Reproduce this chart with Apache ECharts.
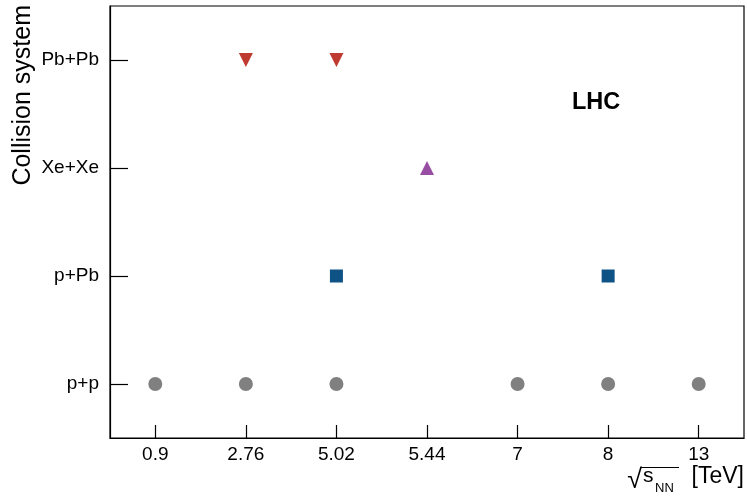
<!DOCTYPE html>
<html>
<head>
<meta charset="utf-8">
<script src="https://cdn.jsdelivr.net/npm/echarts@6/dist/echarts.min.js"></script>
<style>html,body{margin:0;padding:0;background:#fff}#c{width:747px;height:499px}</style>
</head>
<body>
<div id="c"></div>
<script>
var energies = ['0.9', '2.76', '5.02', '5.44', '7', '8', '13'];
var systems = ['p+p', 'p+Pb', 'Xe+Xe', 'Pb+Pb'];
var ppEnergies = ['0.9', '2.76', '5.02', '7', '8', '13'];
var pPbEnergies = ['5.02', '8'];
var XeXeEnergies = ['5.44'];
var PbPbEnergies = ['2.76', '5.02'];

var FONT = '"Liberation Sans", Arial, Helvetica, sans-serif';
function pts(list, sys) { return list.map(function (e) { return [e, sys]; }); }

var chart = echarts.init(document.getElementById('c'), null, { renderer: 'canvas' });
chart.setOption({
  animation: false,
  backgroundColor: '#fff',
  grid: { left: 110, right: 3, top: 6, bottom: 61, show: true, borderColor: '#000', borderWidth: 1.2, backgroundColor: 'transparent' },
  xAxis: {
    type: 'category', data: energies, boundaryGap: true,
    axisLine: { show: true, lineStyle: { color: '#000', width: 1.2 } },
    axisTick: { show: true, alignWithLabel: true, inside: true, length: 13, lineStyle: { color: '#000', width: 1.2 } },
    axisLabel: { color: '#000', fontSize: 19, fontFamily: FONT, margin: 7 },
    splitLine: { show: false }
  },
  yAxis: {
    type: 'category', data: systems, boundaryGap: true,
    axisLine: { show: true, lineStyle: { color: '#000', width: 1.2 } },
    axisTick: { show: true, alignWithLabel: true, inside: true, length: 18, lineStyle: { color: '#000', width: 1.2 } },
    axisLabel: { color: '#000', fontSize: 19, fontFamily: FONT, margin: 11 },
    splitLine: { show: false }
  },
  series: [
    { type: 'scatter', name: 'p+p', data: pts(ppEnergies, 'p+p'), symbol: 'circle', symbolSize: 14, itemStyle: { color: '#808080', opacity: 1 } },
    { type: 'scatter', name: 'p+Pb', data: pts(pPbEnergies, 'p+Pb'), symbol: 'rect', symbolSize: 13, itemStyle: { color: '#0f5286', opacity: 1 } },
    { type: 'scatter', name: 'Xe+Xe', data: pts(XeXeEnergies, 'Xe+Xe'), symbol: 'triangle', symbolSize: 14, itemStyle: { color: '#984ea3', opacity: 1 } },
    { type: 'scatter', name: 'Pb+Pb', data: pts(PbPbEnergies, 'Pb+Pb'), symbol: 'triangle', symbolRotate: 180, symbolSize: 14, itemStyle: { color: '#bf3a30', opacity: 1 } }
  ],
  graphic: [
    { type: 'text', x: 572, y: 103, style: { text: 'LHC', fontSize: 23.5, fontWeight: 'bold', fontFamily: FONT, fill: '#000', align: 'left', verticalAlign: 'middle' } },
    { type: 'text', x: 23, y: 5, rotation: Math.PI / 2, style: { text: 'Collision system', fontSize: 25, fontFamily: FONT, fill: '#000', align: 'right', verticalAlign: 'middle' } },
    { type: 'text', x: 744, y: 477, style: { text: '[TeV]', fontSize: 23, fontFamily: FONT, fill: '#000', align: 'right', verticalAlign: 'middle' } },
    { type: 'text', x: 643, y: 476, style: { text: 's', fontSize: 21, fontFamily: FONT, fill: '#000', align: 'left', verticalAlign: 'middle' } },
    { type: 'text', x: 655, y: 488, style: { text: 'NN', fontSize: 13, fontFamily: FONT, fill: '#000', align: 'left', verticalAlign: 'middle' } },
    { type: 'text', x: 642, y: 481, style: { text: '√', fontSize: 27, fontFamily: FONT, fill: '#000', align: 'right', verticalAlign: 'middle' } },
    { type: 'line', shape: { x1: 640, y1: 467.5, x2: 679, y2: 467.5 }, style: { stroke: '#000', lineWidth: 1.2 } }
  ]
});
</script>
</body>
</html>
